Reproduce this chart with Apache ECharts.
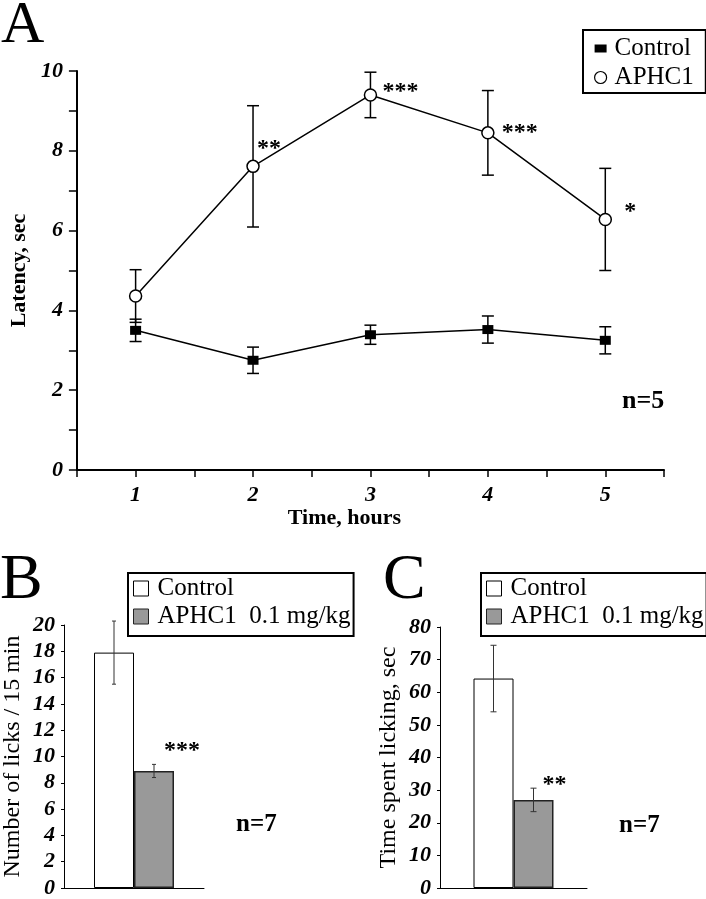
<!DOCTYPE html>
<html>
<head>
<meta charset="utf-8">
<title>Latency and licking</title>
<script src="https://cdn.jsdelivr.net/npm/echarts@6/dist/echarts.min.js"></script>
<style>
  html, body { margin: 0; padding: 0; background: #fff; }
  #chart { width: 706px; height: 899px; }
</style>
</head>
<body>
<div id="chart"></div>
<script>
// panel A: latency over time
const hours = [1, 2, 3, 4, 5];
const ctrlLatency = [3.5, 2.75, 3.39, 3.52, 3.25];
const ctrlLatencyErr = [0.28, 0.33, 0.24, 0.34, 0.34];
const aphcLatency = [4.36, 7.61, 9.4, 8.45, 6.28];
const aphcLatencyErr = [0.66, 1.52, 0.57, 1.06, 1.28];
const aphcStars = ['', '**', '***', '***', '*'];

// panel B: number of licks / 15 min
const licksMean = [17.9, 8.9];
const licksErr = [2.4, 0.5];
const licksStars = ['', '***'];

// panel C: time spent licking, sec
const timeMean = [64.2, 27];
const timeErr = [10.2, 3.6];
const timeStars = ['', '**'];

const groups = ['Control', 'APHC1  0.1 mg/kg'];
const barCategory = ['dose'];

const serif = '"Liberation Serif", "Times New Roman", serif';
// where the stars sit next to each APHC1 point
const starOffsets = [[0, 0], [4, -18], [12, -3], [14, 0], [19, -8]];

const chart = echarts.init(document.getElementById('chart'));

function errorBars(capWidth, shift, lineWidth, color) {
    return function (params, api) {
        const x = api.value(0);
        const lo = api.coord([x, api.value(1)]);
        const hi = api.coord([x, api.value(2)]);
        const cx = lo[0] + (shift ? (params.dataIndex * 2 - 1) * shift : 0);
        const half = capWidth / 2;
        const style = { stroke: color, lineWidth: lineWidth };
        return {
            type: 'group',
            children: [
                { type: 'line', shape: { x1: cx, y1: hi[1], x2: cx, y2: lo[1] }, style: style },
                { type: 'line', shape: { x1: cx - half, y1: hi[1], x2: cx + half, y2: hi[1] }, style: style },
                { type: 'line', shape: { x1: cx - half, y1: lo[1], x2: cx + half, y2: lo[1] }, style: style }
            ]
        };
    };
}

function ends(mean, err, xs) {
    return mean.map((m, i) => [xs ? xs[i] : 0, m - err[i], m + err[i]]);
}

const starLabel = {
    show: true,
    fontFamily: serif,
    fontWeight: 'bold',
    fontSize: 24,
    color: '#000'
};

const barLegendData = [
    { name: groups[0], icon: 'rect', itemStyle: { color: '#fff', borderColor: '#000', borderWidth: 1 } },
    { name: groups[1], icon: 'rect', itemStyle: { color: '#999', borderColor: '#222', borderWidth: 1 } }
];

function barLegend(left) {
    return {
        left: left,
        top: 573,
        orient: 'vertical',
        selectedMode: false,
        borderColor: '#000',
        borderWidth: 2,
        padding: [3, 3, 7, 5],
        itemGap: 3,
        itemWidth: 15,
        itemHeight: 15,
        textStyle: { fontFamily: serif, fontSize: 25, lineHeight: 25, color: '#000', padding: [0, 0, 0, 4] },
        data: barLegendData
    };
}

function barYAxis(grid, max, interval, name) {
    return {
        gridIndex: grid,
        type: 'value',
        min: 0,
        max: max,
        interval: interval,
        name: name,
        nameLocation: 'middle',
        nameGap: 39,
        nameTextStyle: { fontFamily: serif, fontSize: 24, color: '#000' },
        axisLine: { show: true, lineStyle: { color: '#000', width: 1 } },
        axisTick: { show: true, length: 3, lineStyle: { color: '#000', width: 1 } },
        splitLine: { show: false },
        axisLabel: { margin: 9, fontFamily: serif, fontStyle: 'italic', fontWeight: 'bold', fontSize: 22, color: '#000' }
    };
}

function barXAxis(grid) {
    return {
        gridIndex: grid,
        type: 'category',
        data: barCategory,
        axisLine: { lineStyle: { color: '#000', width: 1 } },
        axisTick: { show: false },
        axisLabel: { show: false }
    };
}

function barSeries(axis, mean, err, stars, starPos, capWidth) {
    return [
        {
            name: groups[0],
            type: 'bar',
            xAxisIndex: axis,
            yAxisIndex: axis,
            barWidth: 40,
            barGap: 0,
            data: [mean[0]],
            itemStyle: { color: '#fff', borderColor: '#000', borderWidth: 1 }
        },
        {
            name: groups[1],
            type: 'bar',
            xAxisIndex: axis,
            yAxisIndex: axis,
            barWidth: 40,
            barGap: 0,
            data: [{
                value: mean[1],
                label: Object.assign({}, starLabel, {
                    formatter: stars[1], position: starPos, align: 'left', verticalAlign: 'middle'
                })
            }],
            itemStyle: { color: '#999', borderColor: '#222', borderWidth: 1.5 }
        },
        {
            type: 'custom',
            xAxisIndex: axis,
            yAxisIndex: axis,
            z: 3,
            renderItem: errorBars(capWidth, 20, 1, '#333'),
            data: ends(mean, err)
        }
    ];
}

const option = {
    animation: false,
    backgroundColor: '#fff',
    title: [
        { text: 'A', left: 1, top: -4, padding: 0, textStyle: { fontFamily: serif, fontSize: 60, fontWeight: 'normal', color: '#000' } },
        { text: 'B', left: 0, top: 549, padding: 0, textStyle: { fontFamily: serif, fontSize: 64, fontWeight: 'normal', color: '#000' } },
        { text: 'C', left: 383, top: 549, padding: 0, textStyle: { fontFamily: serif, fontSize: 64, fontWeight: 'normal', color: '#000' } },
        { text: 'n=5', left: 622, top: 388, padding: 0, textStyle: { fontFamily: serif, fontSize: 26, fontWeight: 'bold', color: '#000' } },
        { text: 'n=7', left: 236, top: 812, padding: 0, textStyle: { fontFamily: serif, fontSize: 25, fontWeight: 'bold', color: '#000' } },
        { text: 'n=7', left: 619, top: 813, padding: 0, textStyle: { fontFamily: serif, fontSize: 25, fontWeight: 'bold', color: '#000' } }
    ],
    legend: [
        {
            left: 583,
            top: 30,
            orient: 'vertical',
            selectedMode: false,
            borderColor: '#000',
            borderWidth: 2,
            padding: [6, 12, 3, 11],
            itemGap: 4,
            itemWidth: 12,
            itemHeight: 12,
            textStyle: { fontFamily: serif, fontSize: 25, lineHeight: 25, color: '#000', padding: [0, 0, 0, 3] },
            data: [
                { name: 'Control', icon: 'path://M0,0h0M0,2h12v8h-12zM12,12h0', itemStyle: { color: '#000', borderWidth: 0 } },
                { name: 'APHC1', icon: 'circle', itemStyle: { color: '#fff', borderColor: '#000', borderWidth: 1.2 } }
            ]
        },
        barLegend(128),
        barLegend(481)
    ],
    grid: [
        { left: 68, top: 71, width: 596, height: 399 },
        { left: 63, top: 625, width: 141, height: 266 },
        { left: 440, top: 627, width: 147, height: 266 }
    ],
    xAxis: [
        {
            gridIndex: 0,
            type: 'value',
            min: 0.5,
            max: 5.5,
            interval: 0.5,
            name: 'Time, hours',
            nameLocation: 'middle',
            nameGap: 34,
            nameTextStyle: { fontFamily: serif, fontSize: 22, fontWeight: 'bold', color: '#000', padding: [0, 52, 0, 0] },
            axisLine: { lineStyle: { color: '#000', width: 2 } },
            axisTick: { length: 7, lineStyle: { color: '#000', width: 1.5 } },
            splitLine: { show: false },
            axisLabel: {
                margin: 14,
                fontFamily: serif,
                fontStyle: 'italic',
                fontWeight: 'bold',
                fontSize: 22,
                color: '#000',
                formatter: v => Number.isInteger(v) ? String(v) : ''
            }
        },
        barXAxis(1),
        barXAxis(2)
    ],
    yAxis: [
        {
            gridIndex: 0,
            type: 'value',
            min: 0,
            max: 10,
            interval: 1,
            name: 'Latency, sec',
            nameLocation: 'middle',
            nameGap: 46,
            nameTextStyle: { fontFamily: serif, fontSize: 22, fontWeight: 'bold', color: '#000' },
            axisLine: { show: true, lineStyle: { color: '#000', width: 2 } },
            axisTick: { show: true, length: 8, lineStyle: { color: '#000', width: 1.5 } },
            splitLine: { show: false },
            axisLabel: {
                margin: 14,
                fontFamily: serif,
                fontStyle: 'italic',
                fontWeight: 'bold',
                fontSize: 22,
                color: '#000',
                formatter: v => v % 2 === 0 ? String(v) : ''
            }
        },
        barYAxis(1, 20, 2, 'Number of licks / 15 min'),
        barYAxis(2, 80, 10, 'Time spent licking, sec')
    ],
    series: [
        {
            name: 'Control',
            type: 'line',
            xAxisIndex: 0,
            yAxisIndex: 0,
            z: 3,
            symbol: 'rect',
            symbolSize: [11, 9],
            itemStyle: { color: '#000' },
            lineStyle: { color: '#000', width: 1.5 },
            data: hours.map((h, i) => [h, ctrlLatency[i]])
        },
        {
            name: 'APHC1',
            type: 'line',
            xAxisIndex: 0,
            yAxisIndex: 0,
            z: 4,
            symbol: 'circle',
            symbolSize: 12,
            itemStyle: { color: '#fff', borderColor: '#000', borderWidth: 1.5 },
            lineStyle: { color: '#000', width: 1.5 },
            data: hours.map((h, i) => ({
                value: [h, aphcLatency[i]],
                label: Object.assign({}, starLabel, {
                    show: aphcStars[i] !== '',
                    formatter: aphcStars[i],
                    position: 'inside',
                    align: 'left',
                    verticalAlign: 'middle',
                    offset: starOffsets[i]
                })
            }))
        },
        {
            type: 'custom',
            xAxisIndex: 0,
            yAxisIndex: 0,
            z: 2,
            renderItem: errorBars(12, 0, 1.5, '#000'),
            data: ends(ctrlLatency, ctrlLatencyErr, hours)
        },
        {
            type: 'custom',
            xAxisIndex: 0,
            yAxisIndex: 0,
            z: 2,
            renderItem: errorBars(12, 0, 1.5, '#000'),
            data: ends(aphcLatency, aphcLatencyErr, hours)
        }
    ].concat(
        barSeries(1, licksMean, licksErr, licksStars, [30, -20], 4),
        barSeries(2, timeMean, timeErr, timeStars, [29, -15], 6)
    )
};

chart.setOption(option);

window.addEventListener('resize', () => {
    setTimeout(() => {
        chart.resize();
    }, 10);
});
</script>
</body>
</html>
